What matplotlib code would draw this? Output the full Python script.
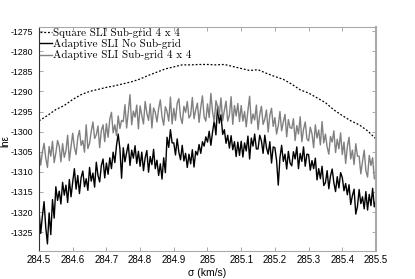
import numpy as np
import matplotlib
matplotlib.use('Agg')
import matplotlib.pyplot as plt

# sigma grids
sigma_sq = np.linspace(284.5, 285.5, 41)
sigma_ad = np.linspace(284.5, 285.5, 201)

# Square SLI Sub-grid 4 x 4 (smooth)
ln_sq = [-1297.3, -1296.0, -1294.5, -1293.5, -1292.0, -1290.8, -1290.0, -1289.5,
         -1289.0, -1288.6, -1288.1, -1287.6, -1286.9, -1286.0, -1285.2, -1284.4,
         -1283.9, -1283.4, -1283.4, -1283.3, -1283.3, -1283.4, -1283.3, -1283.8,
         -1284.3, -1284.8, -1284.6, -1285.5, -1286.3, -1287.0, -1288.2, -1289.6,
         -1290.4, -1291.6, -1292.8, -1294.6, -1296.0, -1297.3, -1298.3, -1299.8,
         -1301.8]

# Adaptive SLI No Sub-grid
ln_nosub = [
    -1319.6, -1325.3, -1321.0, -1317.4, -1323.8, -1327.9, -1320.2, -1325.6, -1316.9, -1321.5,
    -1313.7, -1317.1, -1314.8, -1318.0, -1312.6, -1315.8, -1313.3, -1317.6, -1311.9, -1316.2,
    -1312.5, -1309.2, -1314.3, -1310.9, -1315.4, -1311.4, -1309.8, -1313.7, -1311.7, -1314.6,
    -1308.9, -1312.3, -1310.3, -1313.8, -1307.6, -1310.9, -1312.5, -1308.4, -1306.8, -1311.5,
    -1307.8, -1310.6, -1306.5, -1309.2, -1305.1, -1307.7, -1303.4, -1300.6, -1304.2, -1311.6,
    -1304.0, -1307.5, -1305.2, -1303.1, -1308.4, -1304.6, -1306.6, -1303.5, -1307.9, -1304.9,
    -1308.6, -1305.1, -1309.7, -1306.5, -1304.7, -1310.1, -1306.2, -1308.2, -1304.4, -1309.2,
    -1307.1, -1310.9, -1308.0, -1311.8, -1306.5, -1310.2, -1301.4, -1303.9, -1299.5, -1302.8,
    -1302.8, -1305.8, -1301.8, -1305.1, -1307.0, -1303.4, -1307.3, -1305.4, -1308.9, -1305.6,
    -1308.0, -1304.5, -1308.8, -1304.9, -1305.8, -1303.2, -1305.4, -1302.5, -1303.6, -1301.3,
    -1302.6, -1299.9, -1303.4, -1300.1, -1297.3, -1300.8, -1293.6, -1297.9, -1295.8, -1300.7,
    -1299.5, -1302.9, -1300.9, -1304.1, -1301.0, -1304.5, -1302.5, -1306.2, -1302.6, -1305.9,
    -1302.4, -1306.3, -1302.8, -1304.8, -1301.1, -1306.8, -1301.6, -1303.6, -1300.6, -1304.3,
    -1304.3, -1300.9, -1302.3, -1305.4, -1300.9, -1304.0, -1305.6, -1302.5, -1307.8, -1303.8,
    -1304.0, -1307.2, -1313.3, -1306.5, -1303.4, -1307.4, -1305.6, -1309.3, -1304.9, -1307.8,
    -1308.5, -1305.0, -1306.8, -1303.8, -1309.2, -1305.4, -1307.4, -1303.8, -1308.6, -1305.6,
    -1305.7, -1309.6, -1307.2, -1309.2, -1306.6, -1312.0, -1309.2, -1311.7, -1308.6, -1313.4,
    -1312.7, -1309.7, -1314.2, -1311.0, -1309.3, -1312.7, -1314.9, -1311.2, -1314.0, -1310.2,
    -1311.4, -1314.7, -1312.9, -1315.7, -1313.2, -1318.1, -1315.9, -1314.3, -1320.5, -1318.6,
    -1314.4, -1317.9, -1316.2, -1319.2, -1314.9, -1319.5, -1315.6, -1318.4, -1314.1, -1318.7,
    -1317.0]

# Adaptive SLI Sub-grid 4 x 4
ln_sub = [
    -1304.3, -1308.3, -1305.1, -1302.9, -1306.6, -1308.9, -1303.7, -1306.1, -1302.4, -1307.7,
    -1305.3, -1302.2, -1303.6, -1307.5, -1303.0, -1306.4, -1304.7, -1300.9, -1307.2, -1303.8,
    -1300.4, -1303.9, -1305.7, -1301.5, -1299.7, -1303.4, -1302.2, -1305.1, -1298.3, -1304.2,
    -1302.9, -1299.9, -1297.6, -1301.7, -1300.8, -1298.6, -1304.0, -1299.7, -1298.3, -1302.5,
    -1298.0, -1301.4, -1296.9, -1295.2, -1300.3, -1298.3, -1301.0, -1296.1, -1299.2, -1297.2,
    -1297.5, -1293.3, -1299.1, -1295.1, -1290.8, -1298.3, -1294.9, -1296.4, -1293.4, -1299.3,
    -1293.6, -1296.0, -1298.1, -1292.5, -1295.4, -1297.2, -1293.1, -1299.1, -1294.1, -1295.2,
    -1297.6, -1294.3, -1292.1, -1296.3, -1298.4, -1293.8, -1295.0, -1297.4, -1291.4, -1298.1,
    -1294.2, -1297.2, -1293.0, -1291.8, -1296.4, -1298.0, -1293.7, -1295.2, -1292.5, -1296.6,
    -1295.9, -1291.5, -1296.8, -1294.6, -1292.9, -1297.7, -1294.0, -1291.1, -1296.3, -1297.4,
    -1293.1, -1296.5, -1290.5, -1295.1, -1297.6, -1292.3, -1293.8, -1296.0, -1291.6, -1297.3,
    -1294.7, -1292.4, -1297.4, -1295.9, -1291.3, -1298.2, -1293.5, -1296.1, -1293.0, -1297.5,
    -1293.5, -1297.4, -1295.0, -1298.8, -1294.7, -1291.2, -1298.0, -1295.6, -1297.1, -1293.4,
    -1299.5, -1295.8, -1293.7, -1298.2, -1296.9, -1294.6, -1300.1, -1295.9, -1294.2, -1298.7,
    -1296.5, -1300.6, -1298.5, -1295.0, -1299.8, -1297.6, -1295.7, -1301.3, -1297.0, -1299.0,
    -1299.2, -1296.8, -1302.2, -1298.5, -1300.6, -1296.3, -1302.5, -1299.4, -1297.6, -1301.8,
    -1302.3, -1298.9, -1300.5, -1304.0, -1298.3, -1301.6, -1299.6, -1303.3, -1297.5, -1302.8,
    -1300.6, -1303.8, -1305.6, -1301.2, -1302.6, -1299.8, -1305.2, -1301.9, -1304.3, -1300.3,
    -1305.7, -1302.6, -1307.9, -1303.7, -1301.4, -1306.8, -1304.6, -1308.2, -1303.0, -1306.1,
    -1306.1, -1310.5, -1307.4, -1304.6, -1309.7, -1311.3, -1305.9, -1308.4, -1306.5, -1311.6,
    -1312.0]

xticks = [284.5, 284.6, 284.7, 284.8, 284.9, 285.0, 285.1, 285.2, 285.3, 285.4, 285.5]
xticklabels = ['284.5', '284.6', '284.7', '284.8', '284.9', '285', '285.1', '285.2',
               '285.3', '285.4', '285.5']
yticks = [-1325, -1320, -1315, -1310, -1305, -1300, -1295, -1290, -1285, -1280, -1275]

plt.rcParams['font.family'] = ['Liberation Sans', 'DejaVu Sans']
plt.rcParams['axes.unicode_minus'] = False

fig = plt.figure(figsize=(4.15, 2.79), dpi=100)
ax = fig.add_axes([0.094, 0.100, 0.812, 0.803])

ax.plot(sigma_sq, ln_sq, color='black', linestyle=(0, (1.5, 1.5)), linewidth=0.9,
        label='Square SLI Sub-grid 4 x 4')
ax.plot(sigma_ad, ln_nosub, color='black', linewidth=1.0, label='Adaptive SLI No Sub-grid')
ax.plot(sigma_ad, ln_sub, color='#808080', linewidth=1.0, label='Adaptive SLI Sub-grid 4 x 4')

ax.set_xlim(284.5, 285.5)
ax.set_ylim(-1329.7, -1274)
ax.set_xticks(xticks)
ax.set_xticklabels(xticklabels)
ax.set_yticks(yticks)
ax.tick_params(direction='in', length=3, width=0.6, colors='#999999',
               labelcolor='black', top=True, right=True, pad=3)
ax.tick_params(axis='x', labelsize=7)
ax.tick_params(axis='y', labelsize=6.3, pad=4)

for side in ['top', 'right', 'bottom']:
    ax.spines[side].set_color('#aaaaaa')
ax.spines['right'].set_linewidth(1.5)
ax.spines['left'].set_color('#333333')
ax.spines['left'].set_linewidth(0.8)

ax.set_xlabel('σ (km/s)', fontsize=7.5, labelpad=2)
ax.set_ylabel('lnε', fontsize=7)
ax.yaxis.set_label_coords(-0.086, 0.49)

leg = ax.legend(loc='upper left', bbox_to_anchor=(-0.005, 1.005), frameon=False,
                handlelength=1.1, handletextpad=0.15, labelspacing=0.1,
                borderpad=0.2, borderaxespad=0.0,
                prop={'family': 'cmr10', 'size': 8})

fig.savefig('out.png', dpi=100)
